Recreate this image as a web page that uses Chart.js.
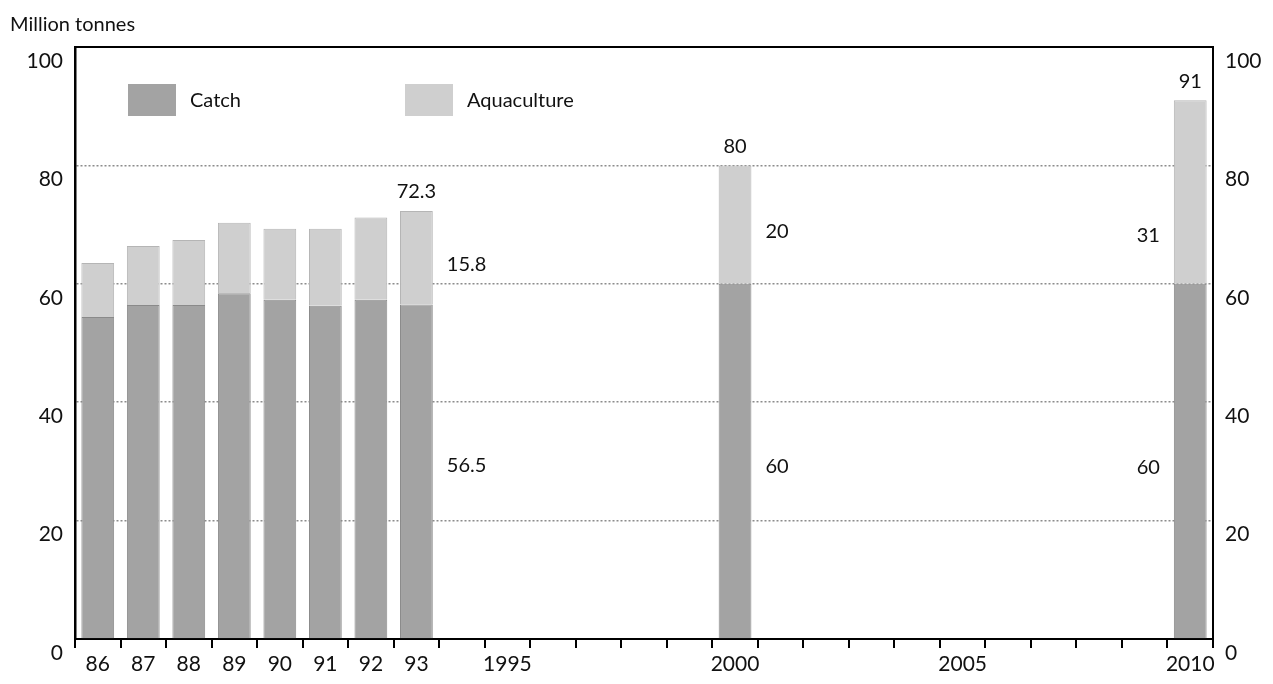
<!DOCTYPE html>
<html>
<head>
<meta charset="utf-8">
<script src="https://cdn.jsdelivr.net/npm/chart.js@4"></script>
<style>
  html, body { margin: 0; padding: 0; background: #fff; }
  #wrap { width: 1273px; height: 684px; }
</style>
</head>
<body>
<div id="wrap"><canvas id="myChart" width="1273" height="684"></canvas></div>
<script>
// years 1986..2010, one slot each
const years = [1986, 1987, 1988, 1989, 1990, 1991, 1992, 1993, 1994, 1995,
  1996, 1997, 1998, 1999, 2000, 2001, 2002, 2003, 2004, 2005,
  2006, 2007, 2008, 2009, 2010];
const tickLabels = ['86', '87', '88', '89', '90', '91', '92', '93', '', '1995',
  '', '', '', '', '2000', '', '', '', '', '2005',
  '', '', '', '', '2010'];
const catchValues = [54.4, 56.4, 56.4, 58.4, 57.3, 56.3, 57.3, 56.5, null, null,
  null, null, null, null, 60, null, null, null, null, null,
  null, null, null, null, 60];
const aquaValues = [9.1, 10.0, 11.0, 11.9, 12.0, 13.0, 13.9, 15.8, null, null,
  null, null, null, null, 20, null, null, null, null, null,
  null, null, null, null, 31];
const yTicks = [0, 20, 40, 60, 80, 100];

// printed numbers on the chart (aquaAt / catchAt = height in million tonnes)
const annotated = [
  { i: 7, side: 'right', total: '72.3', aqua: '15.8', catch: '56.5', aquaAt: 63.2, catchAt: 29.3 },
  { i: 14, side: 'right', total: '80', aqua: '20', catch: '60', aquaAt: 68.8, catchAt: 29.2 },
  { i: 24, side: 'left', total: '91', aqua: '31', catch: '60', aquaAt: 68.2, catchAt: 29.0 }
];

const FONT = 'Lato, "Open Sans", sans-serif';
const catchColor = '#a3a3a3';
const aquaColor = '#cfcfcf';

const extras = {
  id: 'extras',
  afterDraw(chart) {
    const ctx = chart.ctx;
    const area = chart.chartArea;
    const xs = chart.scales.x;
    const ys = chart.scales.y;
    ctx.save();
    ctx.fillStyle = '#111';
    ctx.font = '20px ' + FONT;
    ctx.textBaseline = 'middle';
    ctx.textAlign = 'left';
    ctx.fillText('Million tonnes', 10, 25);

    // legend inside plot
    ctx.fillStyle = catchColor;
    ctx.fillRect(area.left + 53, 84, 48, 32);
    ctx.fillStyle = '#111';
    ctx.fillText('Catch', area.left + 115, 101);
    ctx.fillStyle = aquaColor;
    ctx.fillRect(area.left + 330, 84, 48, 32);
    ctx.fillStyle = '#111';
    ctx.fillText('Aquaculture', area.left + 392, 101);

    // value labels
    const meta = chart.getDatasetMeta(0);
    annotated.forEach(a => {
      const bar = meta.data[a.i];
      const half = bar.width / 2;
      const cx = xs.getPixelForValue(a.i);
      const c = catchValues[a.i];
      const q = aquaValues[a.i];
      ctx.textAlign = 'center';
      ctx.fillText(a.total, cx, ys.getPixelForValue(c + q) - 19);
      let tx;
      if (a.side === 'right') {
        ctx.textAlign = 'left';
        tx = cx + half + 14;
      } else {
        ctx.textAlign = 'right';
        tx = cx - half - 14;
      }
      ctx.fillText(a.aqua, tx, ys.getPixelForValue(a.aquaAt));
      ctx.fillText(a.catch, tx, ys.getPixelForValue(a.catchAt));
    });
    ctx.restore();
  }
};

const ctx = document.getElementById('myChart').getContext('2d');
const myChart = new Chart(ctx, {
  type: 'bar',
  data: {
    labels: years,
    datasets: [
      {
        label: 'Catch',
        data: catchValues,
        backgroundColor: catchColor,
        borderColor: '#8a8a8a',
        borderWidth: 1,
        barPercentage: 0.72,
        categoryPercentage: 1
      },
      {
        label: 'Aquaculture',
        data: aquaValues,
        backgroundColor: aquaColor,
        borderColor: '#b5b5b5',
        borderWidth: 1,
        barPercentage: 0.72,
        categoryPercentage: 1
      }
    ]
  },
  options: {
    responsive: false,
    animation: false,
    layout: { padding: { top: 47, left: 0, right: 0, bottom: 0 } },
    plugins: {
      legend: { display: false },
      title: { display: false },
      tooltip: { enabled: false }
    },
    scales: {
      x: {
        stacked: true,
        grid: { offset: true, drawOnChartArea: false, drawTicks: true, tickLength: 9, color: '#000', lineWidth: 2 },
        border: { display: true, color: '#000', width: 2 },
        ticks: {
          color: '#111', font: { size: 21, family: FONT }, padding: 4,
          autoSkip: false, maxRotation: 0,
          callback: (v, i) => tickLabels[i]
        },
        afterFit: s => { s.height = 45; }
      },
      xTop: {
        type: 'category',
        position: 'top',
        labels: years,
        grid: { display: false, drawTicks: false },
        border: { display: true, color: '#000', width: 2 },
        ticks: { display: false },
        afterFit: s => { s.height = 0; }
      },
      y: {
        stacked: true,
        min: 0, max: 100,
        afterBuildTicks: s => { s.ticks = yTicks.map(v => ({ value: v })); },
        grid: {
          drawTicks: false,
          color: c => (c.tick.value === 0 || c.tick.value === 100) ? 'rgba(0,0,0,0)' : '#8c8c8c',
          lineWidth: 1.5
        },
        // in v4 border.dash styles the grid lines
        border: { display: true, color: '#000', width: 2.5, dash: [2, 2] },
        ticks: { color: '#111', font: { size: 21, family: FONT }, padding: 12, labelOffset: 14 },
        afterFit: s => { s.width = 75; }
      },
      y2: {
        position: 'right',
        min: 0, max: 100,
        afterBuildTicks: s => { s.ticks = yTicks.map(v => ({ value: v })); },
        grid: { drawOnChartArea: false, drawTicks: false },
        border: { display: true, color: '#000', width: 2 },
        ticks: { color: '#111', font: { size: 21, family: FONT }, padding: 12, labelOffset: 14 },
        afterFit: s => { s.width = 60; }
      }
    }
  },
  plugins: [extras]
});
</script>
</body>
</html>
